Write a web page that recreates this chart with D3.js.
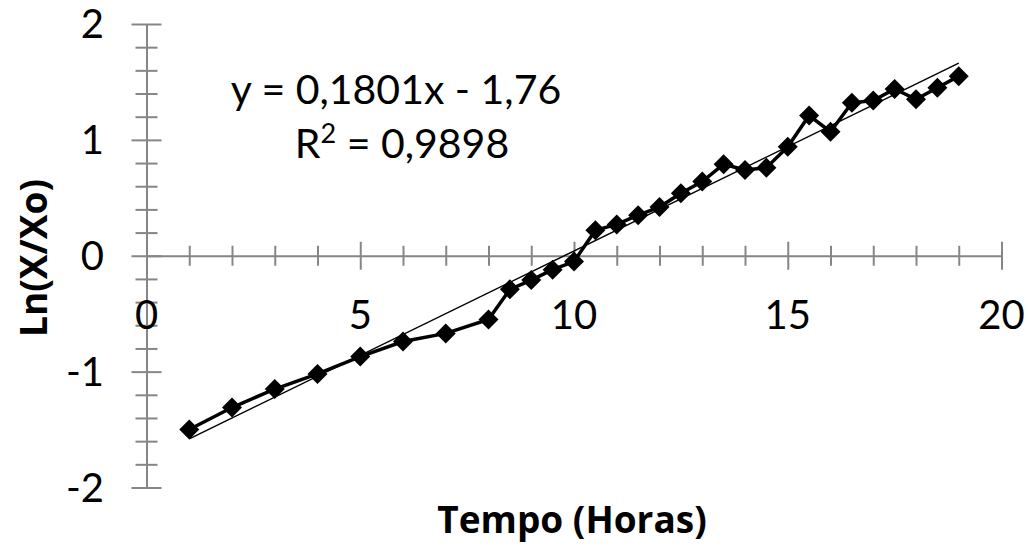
<!DOCTYPE html>
<meta charset="utf-8">
<style>
  body { margin: 0; background: #fff; }
  svg text { font-family: Lato, "Open Sans", sans-serif; fill: #000; }
</style>
<svg id="chart" width="1030" height="546"></svg>
<script src="https://cdn.jsdelivr.net/npm/d3@7"></script>
<script>

// hours
var tempo = [1, 2, 3, 4, 5, 6, 7, 8, 8.5, 9, 9.5, 10, 10.5, 11, 11.5, 12, 12.5, 13,
             13.5, 14, 14.5, 15, 15.5, 16, 16.5, 17, 17.5, 18, 18.5, 19];
// ln(X/Xo)
var lnX = [-1.50, -1.31, -1.15, -1.02, -0.87, -0.74, -0.67, -0.55, -0.29, -0.21, -0.12, -0.05,
           0.22, 0.27, 0.35, 0.42, 0.54, 0.64, 0.79, 0.74, 0.76, 0.94, 1.21, 1.07,
           1.32, 1.34, 1.44, 1.35, 1.45, 1.55];
var trendCoef = [0.1801, -1.76]; // slope, intercept
var xLabels = [0, 5, 10, 15, 20];
var yLabels = [-2, -1, 0, 1, 2];
var eqText = "y = 0,1801x - 1,76";
var r2Text = ["R", "2", " = 0,9898"];

var svg = d3.select("#chart");
var axisCol = "#868686";

var x = d3.scaleLinear().domain([0, 20]).range([146.5, 1001.5]);
var y = d3.scaleLinear().domain([-2, 2]).range([487.5, 24]);

var pts = tempo.map(function(t, i) { return {x: t, y: lnX[i]}; });

// x axis (crosses at y = 0)
var xTicks = d3.range(0, 21);
var gx = svg.append("g").attr("transform", "translate(0," + y(0) + ")")
  .call(d3.axisBottom(x).tickValues(xTicks).tickFormat("").tickSizeOuter(0));
gx.select(".domain").attr("stroke", axisCol).attr("stroke-width", 2);
gx.selectAll(".tick line")
  .attr("stroke", axisCol).attr("stroke-width", 2)
  .attr("y1", function(d) { return d % 5 === 0 ? -14 : -10; })
  .attr("y2", function(d) { return d % 5 === 0 ? 14 : 10; });

// y axis
var yTicks = d3.range(0, 21).map(function(i) { return -2 + i * 0.2; });
var gy = svg.append("g").attr("transform", "translate(" + x(0) + ",0)")
  .call(d3.axisLeft(y).tickValues(yTicks).tickFormat("").tickSizeOuter(0));
gy.select(".domain").attr("stroke", axisCol).attr("stroke-width", 2);
gy.selectAll(".tick line")
  .attr("stroke", axisCol).attr("stroke-width", 2)
  .attr("x1", function(d, i) { return i % 5 === 0 ? -15 : -11; })
  .attr("x2", function(d, i) { return i % 5 === 0 ? 15 : 11; });

// tick labels
svg.append("g").selectAll("text").data(xLabels).enter().append("text")
  .attr("x", function(d) { return x(d); })
  .attr("y", y(0) + 73)
  .attr("text-anchor", "middle")
  .style("font-size", "40px")
  .text(function(d) { return d; });

svg.append("g").selectAll("text").data(yLabels).enter().append("text")
  .attr("x", 104)
  .attr("y", function(d) { return y(d); })
  .attr("dy", "0.36em")
  .attr("text-anchor", "end")
  .style("font-size", "40px")
  .text(function(d) { return d; });

// series line + markers
var line = d3.line().x(function(d) { return x(d.x); }).y(function(d) { return y(d.y); });
svg.append("path").datum(pts)
  .attr("d", line)
  .attr("fill", "none").attr("stroke", "#000").attr("stroke-width", 3.5);

svg.append("g").selectAll("path").data(pts).enter().append("path")
  .attr("transform", function(d) { return "translate(" + x(d.x) + "," + y(d.y) + ")"; })
  .attr("d", "M0,-10L10,0L0,10L-10,0Z")
  .attr("fill", "#000");

// linear trendline
var tr = [tempo[0], tempo[tempo.length - 1]].map(function(t) {
  return {x: t, y: trendCoef[0] * t + trendCoef[1]};
});
svg.append("path").datum(tr)
  .attr("d", line)
  .attr("fill", "none").attr("stroke", "#000").attr("stroke-width", 1.5);

// equation
svg.append("text").attr("x", 396).attr("y", 104)
  .attr("text-anchor", "middle").style("font-size", "41px").text(eqText);
var r2 = svg.append("text").attr("x", 402).attr("y", 158)
  .attr("text-anchor", "middle").style("font-size", "41px");
r2.append("tspan").text(r2Text[0]);
r2.append("tspan").attr("dy", -15).style("font-size", "27px").text(r2Text[1]);
r2.append("tspan").attr("dy", 15).text(r2Text[2]);

// axis titles
svg.append("text")
  .attr("transform", "translate(47,258) rotate(-90)")
  .attr("text-anchor", "middle")
  .style("font-family", "'Open Sans', sans-serif")
  .style("font-size", "37px").style("font-weight", "bold")
  .text("Ln(X/Xo)");

svg.append("text")
  .attr("x", 572).attr("y", 533)
  .attr("text-anchor", "middle")
  .style("font-family", "'Open Sans', sans-serif")
  .style("font-size", "37px").style("font-weight", "bold")
  .text("Tempo (Horas)");

</script>
